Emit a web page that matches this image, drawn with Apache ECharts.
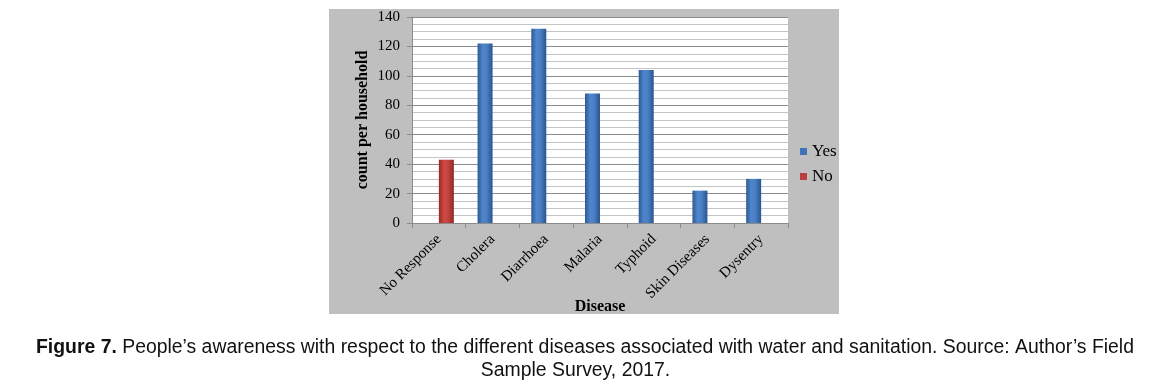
<!DOCTYPE html>
<html>
<head>
<meta charset="utf-8">
<script src="https://cdn.jsdelivr.net/npm/echarts@6/dist/echarts.min.js"></script>
<style>html,body{margin:0;padding:0;background:#fff;}#c{width:1151px;height:389px;}</style>
</head>
<body>
<div id="c"></div>
<script>
const categories = ['No Response', 'Cholera', 'Diarrhoea', 'Malaria', 'Typhoid', 'Skin Diseases', 'Dysentry'];
const yesValues = [null, 122, 132, 88, 104, 22, 30];
const noValues = [43, null, null, null, null, null, null];
const yTicks = [0, 20, 40, 60, 80, 100, 120, 140];

const chart = echarts.init(document.getElementById('c'));
const serif = '"Liberation Serif", "Times New Roman", serif';
const sans = '"Liberation Sans", Arial, sans-serif';
const blueGrad = new echarts.graphic.LinearGradient(0, 0, 1, 0, [
  {offset: 0, color: '#2d5a94'},
  {offset: 0.35, color: '#4f86cc'},
  {offset: 0.6, color: '#4a80c4'},
  {offset: 1, color: '#2a5590'}
]);
const redGrad = new echarts.graphic.LinearGradient(0, 0, 1, 0, [
  {offset: 0, color: '#972a27'},
  {offset: 0.35, color: '#cc4a46'},
  {offset: 0.6, color: '#c44440'},
  {offset: 1, color: '#922825'}
]);
chart.setOption({
  animation: false,
  graphic: [{
    type: 'rect', z: -10, silent: true,
    shape: {x: 329, y: 9, width: 510, height: 305},
    style: {fill: '#bfbfbf'}
  }],
  title: [{
    left: 31, top: 331,
    text: '{b|Figure 7.} People\u2019s awareness with respect to the different diseases associated with water and sanitation. Source: Author\u2019s Field',
    textStyle: {
      fontFamily: sans, fontSize: 19.4, fontWeight: 'normal', color: '#111', lineHeight: 23,
      rich: {b: {fontFamily: sans, fontSize: 19.4, fontWeight: 'bold', color: '#111', lineHeight: 23}}
    }
  }, {
    left: 'center', top: 354,
    text: 'Sample Survey, 2017.',
    textStyle: {fontFamily: sans, fontSize: 19.4, fontWeight: 'normal', color: '#111', lineHeight: 23}
  }],
  legend: {
    orient: 'vertical', left: 795, top: 138,
    itemWidth: 7, itemHeight: 7, itemGap: 8,
    icon: 'rect',
    textStyle: {fontFamily: serif, fontSize: 17, color: '#000'},
    data: [{name: 'Yes', itemStyle: {color: '#3f73b6'}}, {name: 'No', itemStyle: {color: '#b8403c'}}]
  },
  grid: {
    left: 412, top: 17, right: 363, bottom: 166,
    show: true, backgroundColor: '#ffffff', borderWidth: 0
  },
  xAxis: {
    type: 'category', data: categories,
    name: 'Disease', nameLocation: 'middle', nameGap: 76, nameMoveOverlap: false,
    nameTextStyle: {fontFamily: serif, fontSize: 16, fontWeight: 'bold', color: '#000'},
    axisLine: {lineStyle: {color: '#8c8c8c'}},
    axisTick: {show: true, length: 5, lineStyle: {color: '#8c8c8c'}},
    axisLabel: {rotate: 45, fontFamily: serif, fontSize: 15, color: '#000', margin: 14, interval: 0}
  },
  yAxis: {
    type: 'value', min: 0, max: 140, interval: 20,
    name: 'count per household', nameLocation: 'middle', nameGap: 41,
    nameTextStyle: {fontFamily: serif, fontSize: 16, fontWeight: 'bold', color: '#000'},
    axisLine: {show: true, lineStyle: {color: '#8c8c8c'}},
    axisTick: {show: true, length: 5, lineStyle: {color: '#8c8c8c'}},
    axisLabel: {fontFamily: serif, fontSize: 15, color: '#000', margin: 12,
      formatter: v => yTicks.includes(v) ? String(v) : ''},
    splitLine: {show: true, lineStyle: {color: '#8c8c8c', width: 1}},
    minorTick: {show: false, splitNumber: 4},
    minorSplitLine: {show: true, lineStyle: {color: '#c4c4c4', width: 1}}
  },
  series: [
    {name: 'Yes', type: 'bar', data: yesValues, barWidth: 15, barGap: '0%',
      itemStyle: {color: blueGrad}},
    {name: 'No', type: 'bar', data: noValues, barWidth: 15, barGap: '0%',
      itemStyle: {color: redGrad}}
  ]
});
</script>
</body>
</html>
